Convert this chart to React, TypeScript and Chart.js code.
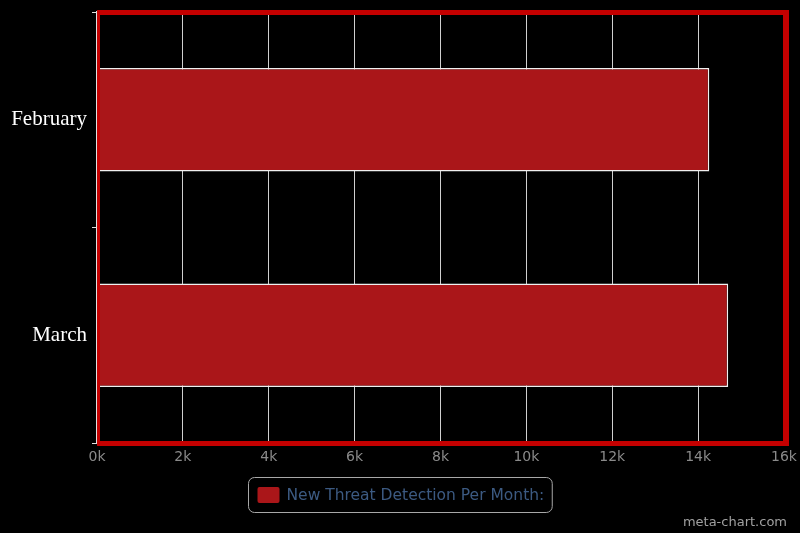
import { Chart, ChartConfiguration, registerables } from "chart.js";
import { useEffect, useRef } from "react";

Chart.register(...registerables);

// chart data
const months: string[] = ["February", "March"];
const threats: number[] = [14260, 14700];
const seriesLabel = "New Threat Detection Per Month:";
const xTicks: number[] = [0, 2000, 4000, 6000, 8000, 10000, 12000, 14000, 16000];

const barRed = "#aa1619";
const frameRed = "#c40000";

// red frame round the plot area, legend box and watermark
const framePlugin = {
  id: "frame",
  afterDatasetsDraw(chart: Chart) {
    const { ctx, chartArea: a } = chart;
    ctx.save();
    ctx.fillStyle = frameRed;
    ctx.fillRect(a.left, a.top - 2, a.right - a.left + 5, 5);
    ctx.fillRect(a.left, a.bottom - 2, a.right - a.left + 5, 5);
    ctx.fillRect(a.left, a.top - 2, 3, a.bottom - a.top + 5);
    ctx.fillRect(a.right - 1, a.top - 2, 6, a.bottom - a.top + 5);
    ctx.restore();
  },
  afterDraw(chart: Chart) {
    const { ctx, width } = chart;
    const ds = chart.data.datasets[0];
    ctx.save();
    // legend
    ctx.font = '15.5px "DejaVu Sans"';
    const text = String(ds.label);
    const tw = ctx.measureText(text).width;
    const boxW = 9 + 22 + 7 + tw + 8;
    const boxX = Math.round(width / 2 - boxW / 2) + 0.5;
    const boxY = 477.5;
    ctx.strokeStyle = "#a8a8a8";
    ctx.lineWidth = 1;
    ctx.beginPath();
    ctx.roundRect(boxX, boxY, boxW, 35, 6);
    ctx.stroke();
    ctx.fillStyle = String(ds.backgroundColor);
    ctx.beginPath();
    ctx.roundRect(boxX + 9, 487, 22, 16, 2);
    ctx.fill();
    ctx.fillStyle = "#3c5a82";
    ctx.textBaseline = "middle";
    ctx.textAlign = "left";
    ctx.fillText(text, boxX + 38, 495.5);
    // watermark
    ctx.font = '13px "DejaVu Sans"';
    ctx.fillStyle = "#a0a0a0";
    ctx.textAlign = "right";
    ctx.textBaseline = "alphabetic";
    ctx.fillText("meta-chart.com", 787, 526);
    ctx.restore();
  },
};

export default function App() {
  const chartRef = useRef<HTMLCanvasElement | null>(null);

  useEffect(() => {
    document.body.style.margin = "0";
    document.body.style.background = "#000";

    const ref = chartRef.current;
    const context = ref?.getContext("2d");
    if (!ref || !context) return;

    const config: ChartConfiguration = {
      type: "bar",
      data: {
        labels: months,
        datasets: [
          {
            label: seriesLabel,
            data: threats,
            backgroundColor: barRed,
            borderColor: "#f0f0f0",
            borderWidth: 1.5,
            categoryPercentage: 0.8,
            barPercentage: 0.6,
          },
        ],
      },
      options: {
        indexAxis: "y",
        animation: false,
        responsive: false,
        maintainAspectRatio: false,
        layout: { padding: { top: 12, right: 16, bottom: 60, left: 0 } },
        plugins: {
          legend: { display: false },
          tooltip: { enabled: false },
        },
        scales: {
          x: {
            min: 0,
            max: 16000,
            afterBuildTicks: (scale: any) => {
              scale.ticks = xTicks.map((v) => ({ value: v }));
            },
            afterFit: (scale: any) => {
              scale.height = 30;
              scale.paddingLeft = 0;
              scale.paddingRight = 0;
            },
            ticks: {
              color: "#8a8a8a",
              font: { family: "DejaVu Sans", size: 14 },
              padding: 6,
              callback: (v: any) => Number(v) / 1000 + "k",
            },
            grid: { color: "#d0d0d0", lineWidth: 1, drawTicks: false },
            border: { display: false },
          },
          y: {
            afterFit: (scale: any) => {
              scale.width = 97;
              scale.paddingTop = 0;
              scale.paddingBottom = 0;
            },
            ticks: {
              color: "#ffffff",
              font: { family: "Liberation Serif", size: 21 },
              padding: 5,
            },
            grid: {
              drawOnChartArea: false,
              drawTicks: true,
              tickLength: 5,
              color: "#e0e0e0",
            },
            border: { display: true, color: "#e0e0e0", width: 2 },
          },
        },
      },
      plugins: [framePlugin],
    };

    const chart = new Chart(context, config);
    return () => {
      chart.destroy();
    };
  }, []);

  return (
    <div style={{ width: 800, height: 533, background: "#000" }}>
      <canvas ref={chartRef} width={800} height={533} style={{ display: "block" }} />
    </div>
  );
}
